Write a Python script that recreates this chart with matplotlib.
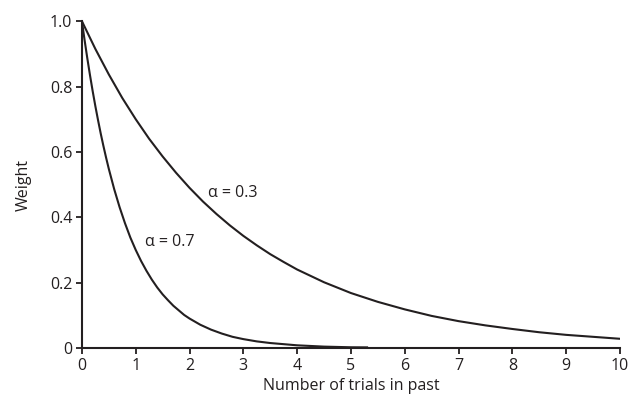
import matplotlib
matplotlib.use("Agg")
import matplotlib.pyplot as plt

plt.rcParams['font.family'] = ['Open Sans', 'DejaVu Sans']

# Weight, alpha = 0.3 curve
trials_a3 = [0, 0.25, 0.5, 0.75, 1, 1.25, 1.5, 1.75, 2, 2.25, 2.5, 2.75, 3, 3.25, 3.5, 3.75,
             4, 4.5, 5, 5.5, 6, 6.5, 7, 7.5, 8, 8.5, 9, 9.5, 10]
weight_a3 = [1.0, 0.915, 0.837, 0.765, 0.700, 0.640, 0.586, 0.536, 0.490, 0.448, 0.410,
             0.375, 0.343, 0.314, 0.287, 0.263, 0.240, 0.201, 0.168, 0.141, 0.118, 0.098,
             0.082, 0.069, 0.058, 0.048, 0.040, 0.034, 0.028]

# alpha = 0.7 curve (stops a little past 5)
trials_a7 = [0, 0.05, 0.1, 0.15, 0.2, 0.25, 0.3, 0.35, 0.4, 0.45, 0.5, 0.6, 0.7, 0.8, 0.9,
             1.0, 1.1, 1.2, 1.3, 1.4, 1.5, 1.6, 1.7, 1.8, 1.9, 2.0, 2.2, 2.4, 2.6, 2.8,
             3.0, 3.25, 3.5, 4.0, 4.5, 5.0, 5.3]
weight_a7 = [1.0, 0.942, 0.887, 0.835, 0.786, 0.740, 0.697, 0.656, 0.618, 0.582, 0.548,
             0.486, 0.431, 0.382, 0.338, 0.300, 0.266, 0.236, 0.209, 0.185, 0.164, 0.146,
             0.129, 0.115, 0.101, 0.090, 0.071, 0.056, 0.044, 0.034, 0.027, 0.020, 0.015,
             0.008, 0.004, 0.002, 0.0017]

xticks = list(range(0, 11))
yticks = [0, 0.2, 0.4, 0.6, 0.8, 1.0]
ytick_labels = ['0', '0.2', '0.4', '0.6', '0.8', '1.0']

ink = '#231f20'
fs = 11.5

fig = plt.figure(figsize=(6.3, 3.99), dpi=100)
ax = fig.add_axes([0.130, 0.128, 0.854, 0.819])

ax.plot(trials_a3, weight_a3, color=ink, lw=1.5)
ax.plot(trials_a7, weight_a7, color=ink, lw=1.5)

ax.text(2.35, 0.475, '\u03b1 = 0.3', fontsize=fs, color=ink, va='center')
ax.text(1.18, 0.325, '\u03b1 = 0.7', fontsize=fs, color=ink, va='center')

ax.set_xlim(0, 10)
ax.set_ylim(0, 1.0)
ax.set_xticks(xticks)
ax.set_yticks(yticks)
ax.set_yticklabels(ytick_labels)
for s in ['top', 'right']:
    ax.spines[s].set_visible(False)
for s in ['left', 'bottom']:
    ax.spines[s].set_linewidth(1.5)
    ax.spines[s].set_color(ink)
ax.tick_params(direction='out', length=4, width=1.3, colors=ink, labelsize=fs, pad=3)
ax.set_xlabel('Number of trials in past', fontsize=fs, color=ink, labelpad=3)
ax.set_ylabel('Weight', fontsize=fs, color=ink, labelpad=13)

fig.savefig('out.png', dpi=100)
